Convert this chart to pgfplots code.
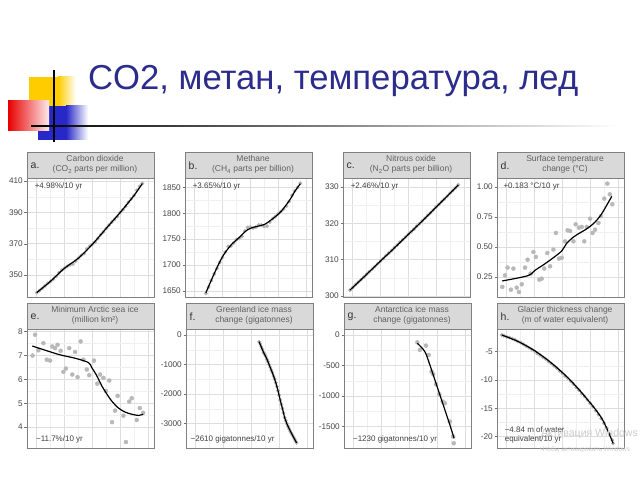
\documentclass[border=0pt]{standalone}
\usepackage{fontspec}
\setmainfont{Liberation Sans}
\usepackage{graphicx}
\usepackage{pgfplots}
\pgfplotsset{compat=1.18}
\definecolor{ttl}{RGB}{44,44,140}
\definecolor{ylw}{RGB}{255,204,0}
\definecolor{rd}{RGB}{232,0,0}
\definecolor{bl}{RGB}{40,40,200}

\pgfplotsset{
  panel/.style={
    scale only axis, width=127pt, height=119pt,
    anchor=north west,
    xmin=1976.5, xmax=2022.2,
    xtick={1980,1990,2000,2010,2020},
    minor xtick={1985,1995,2005,2015},
    xticklabels={},
    xtick style={draw=none},
    ytick pos=left,
    grid=both,
    major grid style={draw=black!13, line width=0.55pt},
    minor grid style={draw=black!6, line width=0.35pt},
    minor y tick num=1,
    axis line style={draw=black!50, line width=0.6pt},
    ytick style={draw=black!55, line width=0.5pt},
    tick align=outside,
    major tick length=2.5pt,
    minor tick length=0pt,
    yticklabel style={font=\fontsize{8.2}{8.2}\selectfont, text=black!72, inner sep=1.5pt},
    /pgf/number format/assume math mode=true,
    /pgf/number format/1000 sep={},
    clip mode=individual,
  },
  scat/.style={only marks, mark=*, mark size=2pt, color=black!28, mark options={solid, draw=black!28, fill=black!28}},
  halo/.style={only marks, mark=*, mark size=1.7pt, color=black!30, mark options={solid, draw=black!30, fill=black!30}},
  trend/.style={no marks, smooth, black, line width=1.2pt},
}
\newcommand{\hdr}[5]{%
  \draw[fill=black!15, draw=black!50, line width=0.6pt] (#1,#2) rectangle ++(127,26);
  \node[anchor=west, font=\fontsize{10.5}{10.5}\selectfont, text=black!80, inner sep=0] at (#1+3.5,#2+12) {#3};
  \node[align=center, font=\fontsize{8.5}{10}\selectfont, text=black!62, inner sep=0] at (#1+68,#2+13.5) {#4\\#5};
}
\newcommand{\ann}{\fontsize{8}{9.5}\selectfont}

\begin{document}
\begin{tikzpicture}[x=1pt,y=1pt]
\path[use as bounding box] (0,0) rectangle (640,480);
\fill[white] (0,0) rectangle (640,480);
\begin{scope}
\clip (0,0) rectangle (640,480);
% ---- slide decoration ----
\fill[ylw] (29,373) rectangle (58,403);
\shade[left color=ylw, right color=white] (58,373) rectangle (76,403);
\fill[bl] (38,340) rectangle (66,374);
\shade[left color=bl, right color=white] (66,340) rectangle (88,374);
\shade[left color=rd, right color=rd!8] (8,349) rectangle (49,379);
\draw[line width=1.4pt] (54,338) -- (54,410);
\shade[left color=black, middle color=black!60, right color=white] (31,353.3) rectangle (620,354.9);
\node[anchor=base west, inner sep=0, text=ttl] at (88,390) {\resizebox{490pt}{!}{CO2, метан, температура, лед}};

% ---- headers ----
\hdr{27}{302}{a.}{Carbon dioxide}{(CO\textsubscript{2} parts per million)}
\hdr{185}{302}{b.}{Methane}{(CH\textsubscript{4} parts per billion)}
\hdr{343}{302}{c.}{Nitrous oxide}{(N\textsubscript{2}O parts per billion)}
\hdr{497}{302}{d.}{Surface temperature}{change (°C)}
\hdr{27}{151}{e.}{Minimum Arctic sea ice}{(million km²)}
\hdr{186}{151}{f.}{Greenland ice mass}{change (gigatonnes)}
\hdr{344}{151}{g.}{Antarctica ice mass}{change (gigatonnes)}
\hdr{497}{151}{h.}{Glacier thickness change}{(m of water equivalent)}

% ---- a. CO2 ----
\begin{axis}[panel, at={(27pt,302pt)}, ymin=336, ymax=412, ytick={350,370,390,410}]
\addplot[halo] coordinates {(1980,338.8)(1981,340.1)(1982,341.5)(1983,343.1)(1984,344.7)(1985,346.1)(1986,347.4)(1987,349.2)(1988,351.6)(1989,353.1)(1990,354.4)(1991,355.6)(1992,356.5)(1993,357.1)(1994,358.8)(1995,360.8)(1996,362.6)(1997,363.7)(1998,366.7)(1999,368.4)(2000,369.6)(2001,371.1)(2002,373.3)(2003,375.8)(2004,377.5)(2005,379.8)(2006,381.9)(2007,383.8)(2008,385.6)(2009,387.4)(2010,389.9)(2011,391.7)(2012,393.9)(2013,396.5)(2014,398.7)(2015,400.8)(2016,404.2)(2017,406.6)(2018,408.5)};
\addplot[trend] coordinates {(1980,338.8)(1985,346.1)(1990,354.4)(1995,360.8)(2000,369.6)(2005,379.8)(2010,389.9)(2015,400.8)(2018,408.5)};
\node[anchor=north west, inner sep=0, font=\ann, text=black!75] at (rel axis cs:0.06,0.965) {+4.98\%/10 yr};
\end{axis}

% ---- b. Methane ----
\begin{axis}[panel, at={(185pt,302pt)}, ymin=1638, ymax=1868, ytick={1650,1700,1750,1800,1850}]
\addplot[halo] coordinates {(1984,1644.8)(1985,1657.3)(1986,1670.1)(1987,1682.7)(1988,1693.3)(1989,1705.0)(1990,1714.4)(1991,1724.8)(1992,1735.5)(1993,1736.5)(1994,1742.2)(1995,1748.9)(1996,1751.5)(1997,1754.6)(1998,1765.6)(1999,1772.4)(2000,1773.2)(2001,1771.2)(2002,1772.7)(2003,1777.4)(2004,1777.1)(2005,1774.3)(2006,1775.0)(2007,1782.7)(2008,1789.2)(2009,1793.4)(2010,1798.6)(2011,1803.2)(2012,1808.1)(2013,1813.5)(2014,1822.5)(2015,1834.3)(2016,1843.2)(2017,1849.7)(2018,1857.9)};
\addplot[trend] coordinates {(1984,1646)(1987,1683)(1990,1716)(1993,1738)(1996,1753)(1999,1768)(2002,1774)(2005,1778)(2008,1789)(2011,1803)(2014,1824)(2016,1842)(2018,1857)};
\node[anchor=north west, inner sep=0, font=\ann, text=black!75] at (rel axis cs:0.06,0.965) {+3.65\%/10 yr};
\end{axis}

% ---- c. N2O ----
\begin{axis}[panel, at={(343pt,302pt)}, ymin=299.7, ymax=332.5, ytick={300,310,320,330}]
\addplot[halo] coordinates {(1979,301.6)(1980,302.3)(1981,303.1)(1982,303.8)(1983,304.5)(1984,305.2)(1985,306.0)(1986,306.7)(1987,307.4)(1988,308.1)(1989,308.9)(1990,309.6)(1991,310.3)(1992,311.1)(1993,311.8)(1994,312.5)(1995,313.3)(1996,314.0)(1997,314.8)(1998,315.5)(1999,316.2)(2000,317.0)(2001,317.7)(2002,318.4)(2003,319.2)(2004,319.9)(2005,320.7)(2006,321.4)(2007,322.2)(2008,322.9)(2009,323.7)(2010,324.5)(2011,325.2)(2012,326.0)(2013,326.7)(2014,327.5)(2015,328.3)(2016,329.0)(2017,329.8)(2018,330.6)};
\addplot[trend] coordinates {(1979,301.6)(1984,305.2)(1989,308.9)(1994,312.5)(1999,316.2)(2004,319.9)(2009,323.7)(2014,327.5)(2018,330.6)};
\node[anchor=north west, inner sep=0, font=\ann, text=black!75] at (rel axis cs:0.06,0.965) {+2.46\%/10 yr};
\end{axis}

% ---- d. Temperature ----
\begin{axis}[panel, at={(497pt,302pt)}, ymin=0.083, ymax=1.075, ytick={0.25,0.5,0.75,1},
  yticklabel style={/pgf/number format/.cd, fixed, fixed zerofill, precision=2}]
\addplot[scat] coordinates {(1978.4,0.167)(1979.4,0.264)(1980.3,0.328)(1981.5,0.144)(1982.4,0.32)(1983.6,0.161)(1984.4,0.125)(1985.4,0.189)(1986.6,0.328)(1987.5,0.394)(1988.6,0.278)(1989.6,0.458)(1990.5,0.417)(1991.7,0.228)(1992.6,0.236)(1993.5,0.32)(1994.6,0.45)(1995.6,0.339)(1996.8,0.478)(1997.7,0.617)(1998.8,0.403)(1999.8,0.41)(2001.0,0.547)(2001.9,0.639)(2002.8,0.633)(2004.0,0.547)(2004.8,0.689)(2006.0,0.661)(2007.0,0.667)(2007.9,0.547)(2008.8,0.667)(2010.0,0.736)(2010.9,0.617)(2011.8,0.644)(2013.0,0.70)(2013.9,0.756)(2015.1,0.903)(2016.2,1.028)(2017.1,0.939)(2018.0,0.856)};
\addplot[trend] coordinates {(1978.4,0.217)(1987.5,0.26)(1990.2,0.306)(1993.5,0.356)(1996.8,0.411)(1999.8,0.467)(2001.5,0.528)(2004.0,0.583)(2005.5,0.606)(2008.3,0.644)(2010.0,0.672)(2011.8,0.708)(2014.2,0.778)(2017.8,0.922)};
\node[anchor=north west, inner sep=0, font=\ann, text=black!75] at (rel axis cs:0.05,0.965) {+0.183 °C/10 yr};
\end{axis}

% ---- e. Arctic sea ice ----
\begin{axis}[panel, at={(27pt,151pt)}, ymin=3.13, ymax=8.1, ytick={4,5,6,7,8}]
\addplot[scat] coordinates {(1978.5,6.99)(1979.4,7.86)(1980.6,7.21)(1982.4,7.51)(1983.6,6.82)(1984.8,6.78)(1985.6,7.37)(1986.6,7.30)(1987.5,7.44)(1988.6,7.19)(1989.6,6.31)(1990.5,6.45)(1991.7,7.30)(1992.8,6.20)(1993.8,7.14)(1994.7,6.09)(1995.8,7.58)(1996.8,6.82)(1998.0,6.41)(1998.9,6.17)(2000.6,6.78)(2001.8,5.82)(2002.8,6.20)(2004.0,6.06)(2004.9,5.51)(2006.1,5.95)(2007.1,4.21)(2008.2,4.69)(2009.1,5.31)(2011.2,4.48)(2012.1,3.38)(2013.3,5.07)(2014.2,5.21)(2016.0,4.30)(2017.1,4.80)(2018.3,4.60)};
\addplot[trend] coordinates {(1978.4,7.39)(1987.8,7.04)(1993.8,6.88)(1998.6,6.70)(1999.8,6.49)(2001.6,6.15)(2003.4,5.73)(2005.2,5.39)(2007.0,5.09)(2009.4,4.80)(2011.8,4.63)(2014.2,4.54)(2016.6,4.49)(2018.3,4.54)};
\node[anchor=south west, inner sep=0, font=\ann, text=black!75] at (rel axis cs:0.07,0.035) {−11.7\%/10 yr};
\end{axis}

% ---- f. Greenland ----
\begin{axis}[panel, at={(186pt,151pt)}, ymin=-3824, ymax=203, ytick={-3000,-2000,-1000,0}]
\addplot[halo] coordinates {(2002.8,-230)(2003.2,-300)(2003.6,-400)(2004.0,-480)(2004.4,-590)(2004.8,-650)(2005.2,-720)(2005.6,-820)(2006.0,-900)(2006.4,-1000)(2006.8,-1090)(2007.2,-1190)(2007.6,-1280)(2008.0,-1390)(2008.4,-1490)(2008.8,-1610)(2009.2,-1740)(2009.6,-1880)(2010.0,-2040)(2010.4,-2200)(2010.8,-2350)(2011.2,-2490)(2011.6,-2640)(2012.0,-2790)(2012.4,-2900)(2012.8,-3000)(2013.2,-3090)(2013.6,-3170)(2014.0,-3250)(2014.4,-3320)(2014.8,-3390)(2015.2,-3460)(2015.6,-3530)(2016.0,-3600)(2016.3,-3650)};
\addplot[trend] coordinates {(2002.8,-226)(2004.3,-565)(2005.5,-791)(2006.7,-1073)(2007.9,-1356)(2008.9,-1638)(2009.7,-1921)(2010.4,-2204)(2011.2,-2486)(2012.1,-2825)(2013.3,-3107)(2014.8,-3390)(2016.3,-3650)};
\node[anchor=south west, inner sep=0, font=\ann, text=black!75] at (rel axis cs:0.035,0.035) {−2610 gigatonnes/10 yr};
\end{axis}

% ---- g. Antarctica ----
\begin{axis}[panel, at={(344pt,151pt)}, ymin=-1848, ymax=98, ytick={-1500,-1000,-500,0}]
\addplot[scat] coordinates {(2002.9,-120)(2003.8,-245)(2006.0,-174)(2007.0,-327)(2008.0,-599)(2008.6,-640)(2009.6,-806)(2010.8,-970)(2012.0,-1089)(2012.8,-1117)(2014.6,-1416)(2015.8,-1661)(2016.0,-1770)};
\addplot[trend] coordinates {(2002.9,-136)(2005.6,-272)(2007.4,-490)(2009.8,-817)(2012.2,-1144)(2014.6,-1470)(2016.1,-1688)};
\node[anchor=south west, inner sep=0, font=\ann, text=black!75] at (rel axis cs:0.07,0.035) {−1230 gigatonnes/10 yr};
\end{axis}

% ---- h. Glaciers ----
\begin{axis}[panel, at={(497pt,151pt)}, ymin=-22, ymax=-1, ytick={-20,-15,-10,-5}]
\addplot[halo] coordinates {(1978.2,-2.05)(1979,-2.2)(1980,-2.4)(1981,-2.5)(1982,-2.7)(1983,-2.9)(1984,-3.2)(1985,-3.4)(1986,-3.7)(1987,-4.0)(1988,-4.3)(1989,-4.6)(1990,-4.9)(1991,-5.3)(1992,-5.6)(1993,-6.0)(1994,-6.3)(1995,-6.7)(1996,-7.1)(1997,-7.5)(1998,-7.9)(1999,-8.4)(2000,-8.8)(2001,-9.3)(2002,-9.7)(2003,-10.2)(2004,-10.7)(2005,-11.3)(2006,-11.8)(2007,-12.4)(2008,-12.9)(2009,-13.5)(2010,-14.1)(2011,-14.7)(2012,-15.4)(2013,-16.1)(2014,-16.8)(2015,-17.6)(2016,-18.5)(2017,-19.5)(2018,-20.6)(2018.3,-21.2)};
\addplot[trend] coordinates {(1978.2,-2.05)(1984.2,-3.23)(1990.2,-4.88)(1996.2,-7.05)(2002.2,-9.70)(2008.2,-12.95)(2014.2,-16.77)(2018.3,-21.19)};
\node[anchor=south west, inner sep=0, font=\ann, text=black!75, align=left] at (rel axis cs:0.06,0.035) {−4.84 m of water\\equivalent/10 yr};
\end{axis}

% ---- watermark ----
\node[anchor=base east, inner sep=0, font=\fontsize{10.5}{10.5}\selectfont, text=black!20] at (638,44) {Активация Windows};
\node[anchor=base west, inner sep=0, font=\fontsize{6.5}{6.5}\selectfont, text=black!20] at (540,28.5) {Чтобы активировать Windows};
\end{scope}
\end{tikzpicture}
\end{document}
